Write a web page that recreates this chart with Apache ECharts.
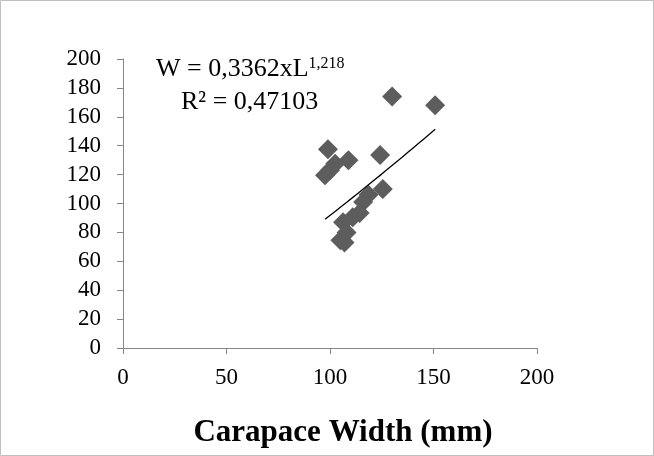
<!DOCTYPE html>
<html>
<head>
<meta charset="utf-8">
<script src="https://cdn.jsdelivr.net/npm/echarts@6/dist/echarts.min.js"></script>
<style>
  html, body { margin: 0; padding: 0; background: #ffffff; }
  #chart { width: 654px; height: 456px; }
</style>
</head>
<body>
<div id="chart"></div>
<script>
// carapace width (mm) / weight (g)
const widthMm = [99, 130, 150.8, 124.2, 108.9, 102.5, 100, 97.6, 125.5, 118.6, 116, 114.3, 111, 106.3, 108, 105, 107]
const weightG = [137.5, 174, 168, 133.5, 130, 127.5, 123, 119.5, 110, 106, 101, 93.5, 90.5, 87, 80, 74.5, 73]

// power trendline W = a * L^b
const coefA = 0.3362
const coefB = 1.218

const xTicks = [0, 50, 100, 150, 200]
const yTicks = [0, 20, 40, 60, 80, 100, 120, 140, 160, 180, 200]

const fontName = '"Liberation Serif", "DejaVu Serif", serif'

const myChart = echarts.init(document.getElementById('chart'))

// scatter points
const points = widthMm.map((w, i) => [w, weightG[i]])

// trendline from smallest to largest width
const minW = Math.min(...widthMm)
const maxW = Math.max(...widthMm)
const trend = []
for (let i = 0; i <= 20; i++) {
  const x = minW + (maxW - minW) * i / 20
  trend.push([x, coefA * Math.pow(x, coefB)])
}

const options = {
  animation: false,
  grid: { left: 123, right: 117, top: 59, bottom: 108 },
  xAxis: {
    type: 'value',
    min: xTicks[0],
    max: xTicks[xTicks.length - 1],
    interval: 50,
    name: 'Carapace Width (mm)',
    nameLocation: 'middle',
    nameGap: 69,
    nameTextStyle: { fontFamily: fontName, fontSize: 31, fontWeight: 'bold', color: '#000', padding: [0, 0, 0, 26] },
    axisLine: { lineStyle: { color: '#868686', width: 1 } },
    axisTick: { show: true, length: 6, lineStyle: { color: '#868686' } },
    axisLabel: { fontFamily: fontName, fontSize: 23, color: '#000', margin: 18 },
    splitLine: { show: false }
  },
  yAxis: {
    type: 'value',
    min: yTicks[0],
    max: yTicks[yTicks.length - 1],
    interval: 20,
    axisLine: { show: true, lineStyle: { color: '#868686', width: 1 } },
    axisTick: { show: true, length: 6, lineStyle: { color: '#868686' } },
    axisLabel: { fontFamily: fontName, fontSize: 23, color: '#000', margin: 22 },
    splitLine: { show: false }
  },
  series: [
    {
      type: 'scatter',
      data: points,
      symbol: 'diamond',
      symbolSize: 20,
      itemStyle: { color: '#5d5d5d', opacity: 1 },
      z: 2
    },
    {
      type: 'line',
      data: trend,
      showSymbol: false,
      smooth: false,
      lineStyle: { color: '#000', width: 1.3 },
      z: 3
    }
  ],
  graphic: [
    // chart border
    {
      type: 'rect',
      shape: { x: 0.5, y: 0.5, width: 653, height: 455 },
      style: { fill: 'none', stroke: '#bfbfbf', lineWidth: 1 }
    },
    // trendline equation
    {
      type: 'text',
      left: 156,
      top: 56,
      style: {
        text: '{n|W = 0,3362xL}{s|1,218}',
        rich: {
          n: { fontFamily: fontName, fontSize: 26, fill: '#000', verticalAlign: 'bottom' },
          s: { fontFamily: fontName, fontSize: 16, fill: '#000', verticalAlign: 'top', padding: [0, 0, 10, 0] }
        }
      }
    },
    {
      type: 'text',
      left: 181,
      top: 89,
      style: { text: 'R² = 0,47103', fontFamily: fontName, fontSize: 26, fill: '#000' }
    }
  ]
}
myChart.setOption(options)
</script>
</body>
</html>
